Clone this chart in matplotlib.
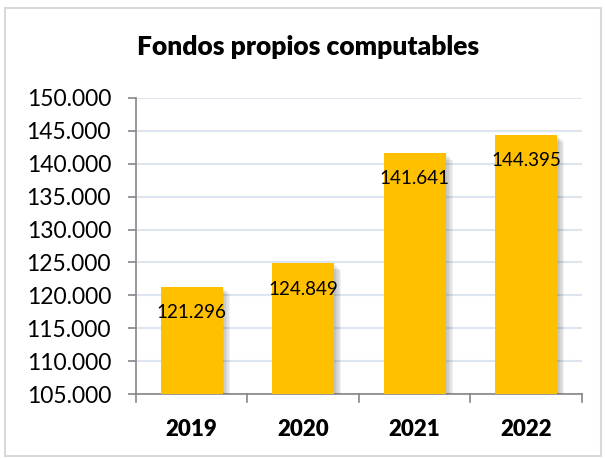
import matplotlib.pyplot as plt
import matplotlib.patheffects as pe
from matplotlib.patches import Rectangle

years = ['2019', '2020', '2021', '2022']
values = [121296, 124849, 141641, 144395]
value_labels = ['121.296', '124.849', '141.641', '144.395']
yticks = [105000, 110000, 115000, 120000, 125000, 130000, 135000, 140000, 145000, 150000]

plt.rcParams['font.family'] = ['Lato', 'DejaVu Sans']

fig = plt.figure(figsize=(6.06, 4.59), dpi=100)
fig.patches.append(Rectangle((0.009, 0.007), 0.983, 0.976, transform=fig.transFigure,
                             fill=False, edgecolor='#d9d9d9', linewidth=1.5))

ax = fig.add_axes([0.2244, 0.1416, 0.7360, 0.6449])
x = range(len(years))
# soft drop shadow like the spreadsheet one
shadow = [pe.SimplePatchShadow(offset=(d, -d), shadow_rgbFace='#404040', alpha=0.07)
          for d in (1, 2, 3, 4, 5)]
bars = ax.bar(x, values, width=0.56, color='#FFC000', zorder=3,
              path_effects=shadow + [pe.Normal()])

for i, b in enumerate(bars):
    ax.annotate(value_labels[i], (b.get_x() + b.get_width() / 2, b.get_height()),
                xytext=(0, -18.7), textcoords='offset points', ha='center', va='center',
                fontsize=13.5, color='black', zorder=4)

ax.set_ylim(105000, 150000)
ax.set_xlim(-0.5, 3.5)
ax.set_yticks(yticks)
ax.set_yticklabels(['{:,}'.format(v).replace(',', '.') for v in yticks], fontsize=16.5)
ax.set_xticks(list(x))
ax.set_xticklabels(years, fontsize=16, fontweight='heavy')
ax.tick_params(axis='x', length=0, pad=18)
ax.tick_params(axis='y', length=6, color='#868686', width=1.2, pad=12)
for v in [-0.5, 0.5, 1.5, 2.5, 3.5]:
    ax.plot([v, v], [0, -0.026], transform=ax.get_xaxis_transform(), color='#868686',
            linewidth=1.2, clip_on=False)

ax.grid(axis='y', color='#dde5f0', linewidth=1.5, zorder=0)
ax.set_axisbelow(True)
for s in ['top', 'right']:
    ax.spines[s].set_visible(False)
for s in ['left', 'bottom']:
    ax.spines[s].set_color('#868686')
    ax.spines[s].set_linewidth(1.2)

fig.text(0.508, 0.898, 'Fondos propios computables', ha='center', va='center',
         fontsize=19, fontweight='heavy')

fig.savefig('out.png', dpi=100)
